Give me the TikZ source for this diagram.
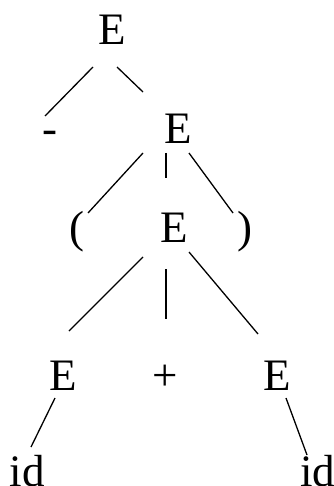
\documentclass[tikz,border=0pt]{standalone}
\usepackage{fontspec}
\setmainfont{Liberation Serif}
\usetikzlibrary{calc}

\begin{document}
\begin{tikzpicture}[x=1pt,y=-1pt,
  sym/.style={anchor=base,inner sep=0pt,font=\fontsize{45}{54}\selectfont},
  edge/.style={line width=1.3pt}]
\useasboundingbox (0,0) rectangle (333,486);
% symbols of the parse tree
\node[sym] (top)  at (112.5,45)  {E};
\node[sym] (neg)  at (49.5,144)  {-};
\node[sym] (e2)   at (178.5,144) {E};
\node[sym] (lp)   at (77,242)    {(};
\node[sym] (e3)   at (174.5,242) {E};
\node[sym] (rp)   at (245,242)   {)};
\node[sym] (e4)   at (63.5,390)  {E};
\node[sym] (plus) at (165,390)   {+};
\node[sym] (e5)   at (277,390)   {E};
\node[sym] (id1)  at (27.5,486)  {id};
\node[sym] (id2)  at (317.5,486) {id};
% branches, offsets from the baselines
\foreach \a/\ax/\ay/\b/\bx/\by in {top/-19.5/22/neg/-4.5/-28, top/4.5/22/e2/-35.5/-52,
    e2/-35.5/9/lp/11/-29, e2/-12.5/9/e3/-8.5/-64, e2/10.5/9/rp/-12/-29,
    e3/-31.5/15/e4/5.5/-59, e3/-8.5/27/plus/1/-71, e3/14.5/10/e5/-19/-56,
    e4/-8.5/8/id1/3.5/-39, e5/9/8/id2/-10.5/-31}
  \draw[edge] ($(\a.base)+(\ax,\ay)$) -- ($(\b.base)+(\bx,\by)$);
\end{tikzpicture}
\end{document}
